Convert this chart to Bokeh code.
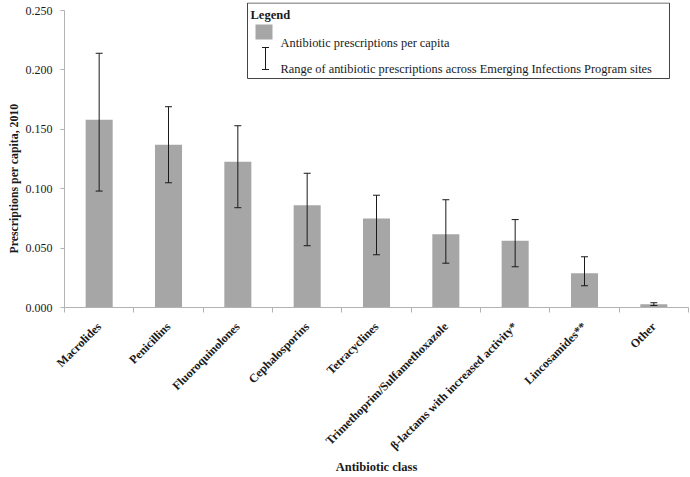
import math
from bokeh.plotting import figure
from bokeh.models import (Range1d, FixedTicker, Whisker, TeeHead, ColumnDataSource,
                          Label, BoxAnnotation, NumeralTickFormatter, Title)
from bokeh.embed import file_html
from bokeh.resources import INLINE

# ---- data ----
categories = ["Macrolides", "Penicillins", "Fluoroquinolones", "Cephalosporins",
              "Tetracyclines", "Trimethoprim/Sulfamethoxazole",
              "β-lactams with increased activity*", "Lincosamides**", "Other"]
per_capita = [0.158, 0.137, 0.1226, 0.086, 0.075, 0.0617, 0.0561, 0.0289, 0.0028]
range_high = [0.214, 0.169, 0.153, 0.113, 0.0945, 0.0907, 0.074, 0.0427, 0.0040]
range_low = [0.098, 0.105, 0.084, 0.052, 0.0444, 0.0373, 0.0343, 0.0183, 0.0017]
y_ticks = [0.0, 0.05, 0.10, 0.15, 0.20, 0.25]

x_title = "Antibiotic class"
y_title = "Prescriptions per capita, 2010"
legend_title = "Legend"
legend_bar = "Antibiotic prescriptions per capita"
legend_range = "Range of antibiotic prescriptions across Emerging Infections Program sites"

FONT = "Liberation Serif"
TXT = "#1a1a1a"
AXIS = "#b3b3b3"

n = len(categories)
centers = [i + 0.5 for i in range(n)]
boundaries = list(range(n + 1))

# planned frame geometry (page pixels) used to place the hand-drawn legend
FL, FR, FT, Y0 = 64.0, 688.0, 2.0, 307.0
PPU = 1188.0  # pixels per unit on the y axis
def dx(px):
    return (px - FL) / ((FR - FL) / n)
def dy(py):
    return (Y0 - py) / PPU

W, H = 690, 477
p = figure(width=W, height=H, output_backend="svg", toolbar_location=None,
           x_range=Range1d(0, n), y_range=Range1d(0, (Y0 - FT) / PPU),
           min_border_left=int(FL), min_border_right=int(W - FR),
           min_border_top=int(FT), min_border_bottom=int(H - Y0))
p.outline_line_color = None
p.xgrid.visible = False
p.ygrid.visible = False
p.background_fill_color = "white"

src = ColumnDataSource(dict(x=centers, top=per_capita, hi=range_high, lo=range_low, name=categories))
p.vbar(x="x", top="top", width=0.39, source=src, fill_color="#a6a6a6", line_color=None)

err = Whisker(base="x", upper="hi", lower="lo", source=src, line_color=TXT, line_width=1,
              level="overlay",
              upper_head=TeeHead(size=7, line_color=TXT, line_width=1),
              lower_head=TeeHead(size=7, line_color=TXT, line_width=1))
p.add_layout(err)

# x axis
xa = p.xaxis[0]
xa.ticker = FixedTicker(ticks=centers, minor_ticks=boundaries)
xa.major_label_overrides = {c: t for c, t in zip(centers, categories)}
xa.major_label_orientation = math.pi / 4
xa.major_tick_out = 0
xa.major_tick_in = 0
xa.minor_tick_out = 5
xa.minor_tick_in = 0
xa.minor_tick_line_color = AXIS
xa.axis_line_color = AXIS
xa.major_label_text_font = FONT
xa.major_label_text_font_style = "bold"
xa.major_label_text_font_size = "12px"
xa.major_label_text_color = TXT
xa.major_label_standoff = 12
xa.axis_label = x_title
xa.axis_label_text_font = FONT
xa.axis_label_text_font_style = "bold"
xa.axis_label_text_font_size = "12.5px"
xa.axis_label_text_color = TXT
xa.axis_label_standoff = 0

# y axis
ya = p.yaxis[0]
ya.ticker = FixedTicker(ticks=y_ticks)
ya.formatter = NumeralTickFormatter(format="0.000")
ya.bounds = (0, 0.25)
ya.axis_line_color = AXIS
ya.major_tick_line_color = AXIS
ya.major_tick_out = 4
ya.major_tick_in = 0
ya.minor_tick_line_color = None
ya.major_label_text_font = FONT
ya.major_label_text_font_size = "12px"
ya.major_label_text_color = TXT
ya.major_label_standoff = 8

# y title as a side title so it can sit low, like the reference
p.add_layout(Title(text=y_title, align="left", offset=54, standoff=4,
                   text_font=FONT, text_font_style="bold", text_font_size="11.8px",
                   text_color=TXT), "left")

# ---- legend box (drawn by hand to reproduce the I-beam icon) ----
p.add_layout(BoxAnnotation(left=dx(247), right=dx(669), top=dy(2.5), bottom=dy(78),
                           fill_color="white", fill_alpha=1.0,
                           line_color="#444444", line_width=1, line_alpha=1.0))
p.add_layout(Label(x=dx(250), y=dy(14), text=legend_title, text_font=FONT,
                   text_font_style="bold", text_font_size="12.5px", text_color=TXT,
                   text_baseline="middle"))
p.add_layout(BoxAnnotation(left=dx(255), right=dx(272), top=dy(24), bottom=dy(39),
                           fill_color="#a6a6a6", fill_alpha=1.0, line_color=None))
p.add_layout(Label(x=dx(280), y=dy(42), text=legend_bar, text_font=FONT,
                   text_font_size="12.4px", text_color=TXT, text_baseline="middle"))
icon = ColumnDataSource(dict(x=[dx(265)], hi=[dy(47)], lo=[dy(69)]))
p.add_layout(Whisker(base="x", upper="hi", lower="lo", source=icon, line_color=TXT,
                     level="overlay",
                     upper_head=TeeHead(size=7, line_color=TXT),
                     lower_head=TeeHead(size=7, line_color=TXT)))
p.add_layout(Label(x=dx(280), y=dy(68), text=legend_range, text_font=FONT,
                   text_font_size="12.4px", text_color=TXT, text_baseline="middle"))

open("out.html", "w").write(file_html(p, INLINE))
